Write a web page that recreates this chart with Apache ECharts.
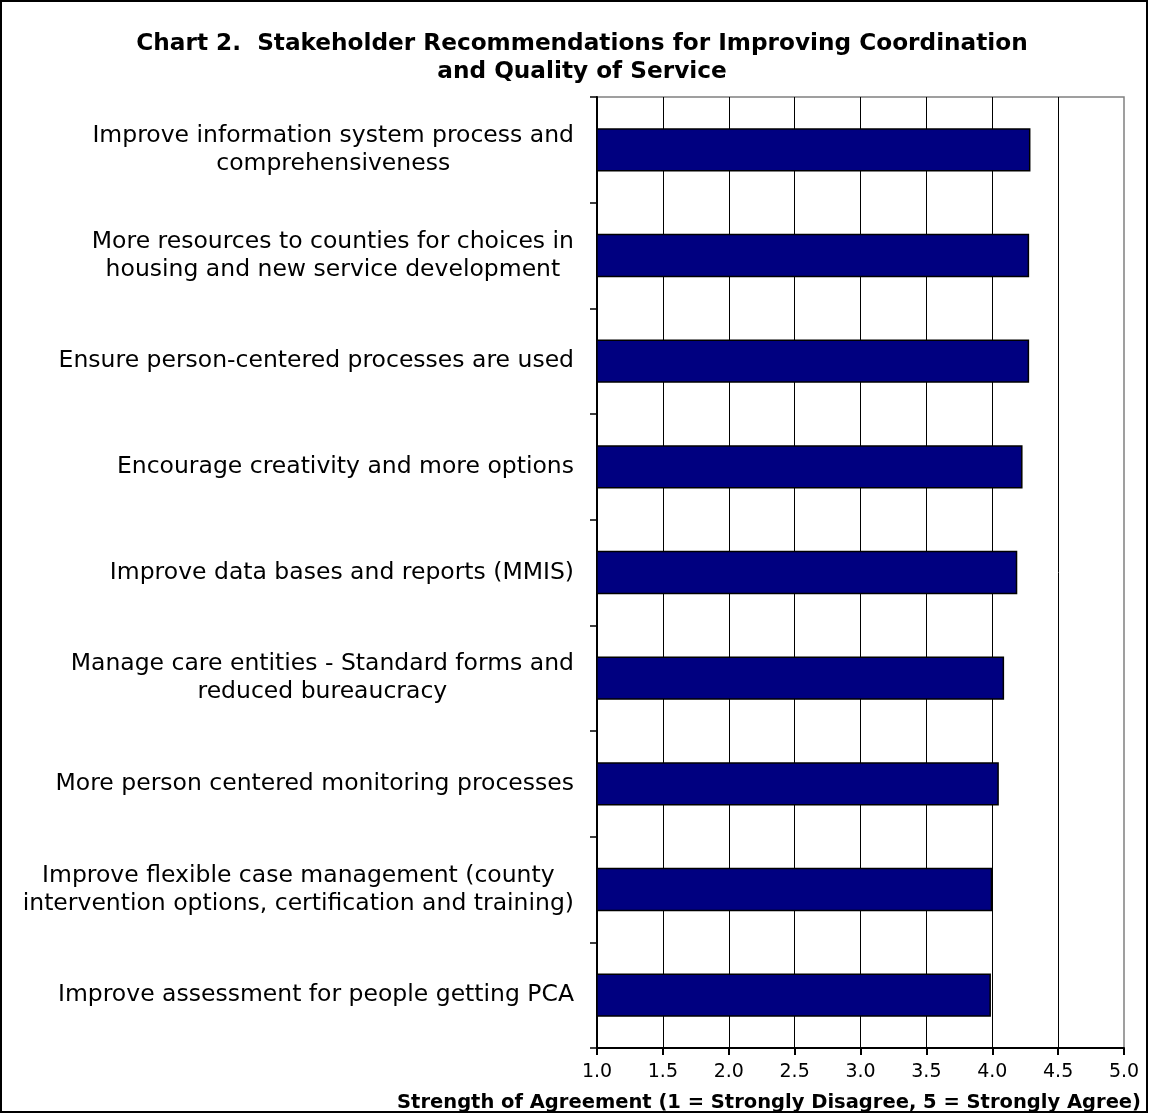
<!DOCTYPE html>
<html>
<head>
<meta charset="utf-8">
<script src="https://cdn.jsdelivr.net/npm/echarts@6/dist/echarts.min.js"></script>
<style>
html,body{margin:0;padding:0;background:#fff;}
#c{width:1150px;height:1115px;}
</style>
</head>
<body>
<div id="c"></div>
<script>
const categories = [
  "Improve information system process and\ncomprehensiveness",
  "More resources to counties for choices in\nhousing and new service development",
  "Ensure person-centered processes are used",
  "Encourage creativity and more options",
  "Improve data bases and reports (MMIS)",
  "Manage care entities - Standard forms and\nreduced bureaucracy",
  "More person centered monitoring processes",
  "Improve flexible case management (county\nintervention options, certification and training)",
  "Improve assessment for people getting PCA"
];
const values = [4.29, 4.28, 4.28, 4.23, 4.19, 4.09, 4.05, 4.00, 3.99];
const xTicks = ["1.0","1.5","2.0","2.5","3.0","3.5","4.0","4.5","5.0"];
const titleLines = ["Chart 2.  Stakeholder Recommendations for Improving Coordination", "and Quality of Service"];
const xAxisTitle = "Strength of Agreement (1 = Strongly Disagree, 5 = Strongly Agree)";

const WIDE = '"DejaVu Sans", Verdana, sans-serif';
const chart = echarts.init(document.getElementById('c'), null, {renderer: 'canvas'});
chart.setOption({
  backgroundColor: '#fff',
  animation: false,
  title: [
    {
      text: titleLines.join('\n'),
      left: 577, top: 25, textAlign: 'center',
      textStyle: {fontFamily: WIDE, fontWeight: 'bold', fontSize: 23.2, lineHeight: 28, color: '#000'}
    },
    {
      text: xAxisTitle,
      right: 4, top: 1088,
      textStyle: {fontFamily: WIDE, fontWeight: 'bold', fontSize: 19.5, color: '#000'}
    }
  ],
  graphic: [{
    type: 'rect', silent: true,
    shape: {x: 1, y: 1, width: 1146, height: 1111},
    style: {fill: 'none', stroke: '#000', lineWidth: 2}
  }],
  grid: {
    left: 597, right: 26, top: 97, bottom: 67,
    show: true, borderColor: '#808080', borderWidth: 1.5, backgroundColor: '#fff'
  },
  xAxis: {
    type: 'value', min: 1, max: 5, interval: 0.5,
    axisLine: {show: true, lineStyle: {color: '#000', width: 2}},
    axisTick: {show: true, inside: false, length: 7, lineStyle: {color: '#000', width: 2}},
    axisLabel: {
      margin: 15, color: '#000', fontFamily: WIDE, fontSize: 19,
      formatter: (v) => xTicks[Math.round((v - 1) / 0.5)]
    },
    splitLine: {show: true, showMinLine: false, showMaxLine: false, lineStyle: {color: '#000', width: 1}}
  },
  yAxis: {
    type: 'category', data: categories, inverse: true,
    axisLine: {show: true, lineStyle: {color: '#000', width: 2}},
    axisTick: {show: true, length: 7, lineStyle: {color: '#000', width: 1.5}},
    axisLabel: {
      margin: 23, color: '#000', fontFamily: WIDE, fontSize: 23.5,
      formatter: (v) => '{a|' + v + '}',
      rich: {a: {align: 'center', fontFamily: WIDE, fontSize: 23.5, lineHeight: 28, color: '#000'}}
    },
    splitLine: {show: false}
  },
  series: [{
    type: 'bar', data: values, barCategoryGap: '59%',
    itemStyle: {color: '#000080', borderColor: '#000', borderWidth: 1.5},
    silent: true
  }]
});
</script>
</body>
</html>
